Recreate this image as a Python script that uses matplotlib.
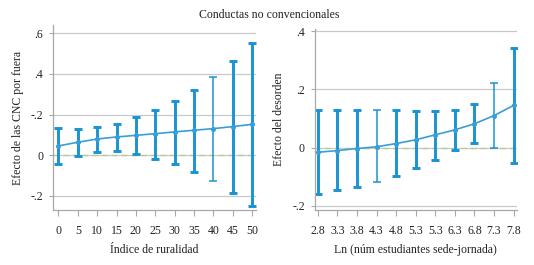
import matplotlib
matplotlib.use("Agg")
import matplotlib.pyplot as plt
import numpy as np

# ---- data ----
rural_x = [0, 5, 10, 15, 20, 25, 30, 35, 40, 45, 50]
rural_est = [0.046, 0.064, 0.080, 0.090, 0.098, 0.106, 0.115, 0.123, 0.131, 0.141, 0.152]
rural_lo = [-0.043, -0.002, 0.016, 0.021, 0.006, -0.017, -0.043, -0.080, -0.128, -0.184, -0.248]
rural_hi = [0.133, 0.131, 0.141, 0.155, 0.188, 0.224, 0.268, 0.322, 0.386, 0.465, 0.553]
rural_yticks = [0.6, 0.4, 0.2, 0.0, -0.2]
rural_yticklabels = [".6", ".4", "-.2", "0", "-.2"]

ln_x = [2.8, 3.3, 3.8, 4.3, 4.8, 5.3, 5.8, 6.3, 6.8, 7.3, 7.8]
ln_xticklabels = ["2.8", "3.3", "3.8", "4.3", "4.8", "5.3", "5.3", "6.3", "6.8", "7.3", "7.8"]
ln_est = [-0.016, -0.010, -0.003, 0.003, 0.014, 0.027, 0.044, 0.061, 0.082, 0.110, 0.145]
ln_lo = [-0.158, -0.145, -0.134, -0.118, -0.096, -0.070, -0.041, -0.008, 0.015, -0.001, -0.053]
ln_hi = [0.128, 0.128, 0.128, 0.128, 0.128, 0.124, 0.124, 0.128, 0.151, 0.223, 0.343]
ln_yticks = [0.4, 0.2, 0.0, -0.2]
ln_yticklabels = [".4", ".2", "0", "-.2"]

# ---- style ----
rural_lw = [2.1, 2.1, 2.1, 2.1, 2.1, 2.1, 2.1, 2.1, 1.1, 2.1, 2.1]
ln_lw = [2.1, 2.1, 2.1, 1.1, 2.1, 2.1, 2.1, 2.1, 2.1, 1.1, 2.1]
BAR = "#1a93d2"
LINE = "#3a9ed6"
ZERO = "#b5cc8c"
GRID = "#c9c9c9"
SPINE = "#a8a8a8"
TXT = "#222222"

plt.rcParams['font.family'] = ['Liberation Serif', 'DejaVu Serif']
plt.rcParams['font.size'] = 8

fig = plt.figure(figsize=(5.34, 2.65), dpi=100)
fig.patch.set_facecolor("white")

ax1 = fig.add_axes([0.0993, 0.2075, 0.3801, 0.698])
ax2 = fig.add_axes([0.5893, 0.2075, 0.3788, 0.683])


def draw(ax, x, est, lo, hi, lws):
    est = np.array(est); lo = np.array(lo); hi = np.array(hi)
    ax.axhline(0, color=ZERO, lw=1.0, ls=(0, (4, 3)), zorder=1)
    for xi, e, l, h, w in zip(x, est, lo, hi, lws):
        ax.errorbar([xi], [e], yerr=[[e - l], [h - e]], fmt='none',
                    ecolor=BAR, elinewidth=w, capsize=2.8, capthick=w, zorder=2)
    ax.plot(x, est, color=LINE, lw=1.2, marker='o', ms=2.6, zorder=3)
    ax.grid(axis='y', color=GRID, lw=0.9)
    ax.set_axisbelow(True)
    for s in ['top', 'right']:
        ax.spines[s].set_visible(False)
    for s in ['left', 'bottom']:
        ax.spines[s].set_color(SPINE)
        ax.spines[s].set_linewidth(0.9)
    ax.tick_params(axis='x', colors=SPINE, length=4, width=0.8, labelcolor=TXT, labelsize=8.5, pad=7)
    ax.tick_params(axis='y', colors=SPINE, length=3, width=0.8, labelcolor=TXT, labelsize=8.5, pad=4)


draw(ax1, rural_x, rural_est, rural_lo, rural_hi, rural_lw)
ax1.set_xlim(-1.4, 51.0)
ax1.set_ylim(-0.269, 0.64)
ax1.set_xticks(rural_x)
ax1.set_yticks(rural_yticks)
ax1.set_yticklabels(rural_yticklabels)
ax1.set_xlabel("Índice de ruralidad", fontsize=8.5, color=TXT, labelpad=5)
ax1.set_ylabel("Efecto de las CNC por fuera", fontsize=8.5, color=TXT, labelpad=5)

draw(ax2, ln_x, ln_est, ln_lo, ln_hi, ln_lw)
ax2.set_xlim(2.72, 7.885)
ax2.set_ylim(-0.214, 0.407)
ax2.set_xticks(ln_x)
ax2.set_xticklabels(ln_xticklabels)
ax2.set_yticks(ln_yticks)
ax2.set_yticklabels(ln_yticklabels)
ax2.set_xlabel("Ln (núm estudiantes sede-jornada)", fontsize=8.5, color=TXT, labelpad=5)
ax2.set_ylabel("Efecto del desorden", fontsize=8.5, color=TXT, labelpad=5)

fig.text(0.505, 0.943, "Conductas no convencionales", ha='center', va='center', fontsize=8.5, color=TXT)

fig.savefig("out.png", dpi=100, facecolor="white")
